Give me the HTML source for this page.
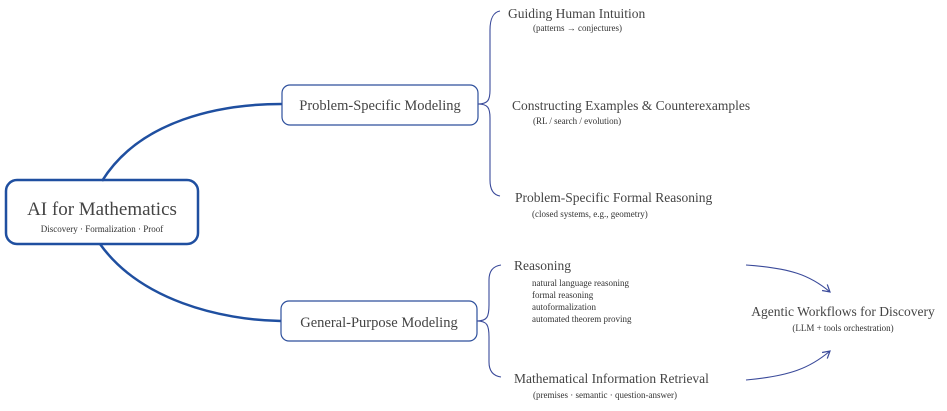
<!DOCTYPE html>
<html><head><meta charset="utf-8"><style>
body{margin:0;background:#fff;}
svg text{font-family:"Liberation Serif",serif;fill:#444;}
</style></head><body>
<svg width="947" height="406" viewBox="0 0 947 406" xmlns="http://www.w3.org/2000/svg">
<defs><marker id="ah" markerWidth="10" markerHeight="10" refX="8" refY="5" orient="auto" markerUnits="userSpaceOnUse"><path d="M1,1 L8,5 L1,9" fill="none" stroke="#3a4a9a" stroke-width="1.2"/></marker></defs>
<g fill="none" stroke="#1f4fa0" stroke-width="2.5">
<path d="M102,181 C140,120 220,104 282,104"/>
<path d="M100,244 C140,300 220,320 281,321"/>
<rect x="6" y="180" width="192" height="64" rx="11"/>
</g>
<g fill="#fff" stroke="#2d4f9c" stroke-width="1.2">
<rect x="282" y="85" width="196" height="40" rx="8"/>
<rect x="281" y="301" width="196" height="40" rx="8"/>
</g>
<g fill="none" stroke="#3a4a9a" stroke-width="1.1">
<path d="M478,104 C488,104 490,100 490,90 L490,30 C490,18 494,12 500,11"/>
<path d="M478,104 C488,104 490,108 490,118 L490,180 C490,190 494,195 500,196"/>
<path d="M477,321 C487,321 489,317 489,305 L489,280 C489,270 494,266 501,265"/>
<path d="M477,321 C487,321 489,325 489,337 L489,362 C489,372 494,376 501,377"/>
<path d="M746,265 C790,268 810,275 830,292" marker-end="url(#ah)"/>
<path d="M746,380 C790,376 810,368 830,351" marker-end="url(#ah)"/>
</g>
<text x="102" y="215" font-size="19" text-anchor="middle">AI for Mathematics</text>
<text x="102" y="232" font-size="9" text-anchor="middle" style="fill:#333">Discovery · Formalization · Proof</text>
<text x="380" y="110" font-size="14.5" text-anchor="middle">Problem-Specific Modeling</text>
<text x="379" y="327" font-size="14.5" text-anchor="middle">General-Purpose Modeling</text>
<text x="508" y="18" font-size="13.5">Guiding Human Intuition</text>
<text x="533" y="31" font-size="9" style="fill:#333">(patterns → conjectures)</text>
<text x="512" y="110" font-size="13.5">Constructing Examples &amp; Counterexamples</text>
<text x="533" y="124" font-size="9" style="fill:#333">(RL / search / evolution)</text>
<text x="515" y="202" font-size="13.5">Problem-Specific Formal Reasoning</text>
<text x="532" y="217" font-size="9" style="fill:#333">(closed systems, e.g., geometry)</text>
<text x="514" y="270" font-size="13.5">Reasoning</text>
<text x="532" y="286" font-size="9" style="fill:#333">natural language reasoning</text>
<text x="532" y="298" font-size="9" style="fill:#333">formal reasoning</text>
<text x="532" y="310" font-size="9" style="fill:#333">autoformalization</text>
<text x="532" y="322" font-size="9" style="fill:#333">automated theorem proving</text>
<text x="514" y="383" font-size="13.5">Mathematical Information Retrieval</text>
<text x="533" y="398" font-size="9" style="fill:#333">(premises · semantic · question-answer)</text>
<text x="843" y="316" font-size="13.5" text-anchor="middle">Agentic Workflows for Discovery</text>
<text x="843" y="331" font-size="9" text-anchor="middle" style="fill:#333">(LLM + tools orchestration)</text>
</svg>
</body></html>
